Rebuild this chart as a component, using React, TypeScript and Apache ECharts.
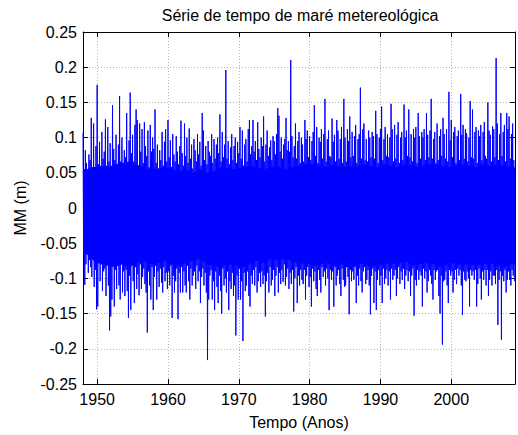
import React, { useEffect, useRef } from "react";
import * as echarts from "echarts";

// Storm-surge (meteorological tide) residual, sampled six times a year.
// For each sample the upper and lower excursion is stored in millimetres.
const startYear = 1948;
const endYear = 2009;
const samplesPerYear = 6;

const highMM: number[] = [
  107, 55, 82, 64, 50, 76,
  68, 128, 58, 120, 52, 88,
  175, 62, 94, 56, 108, 70,
  80, 126, 60, 115, 66, 92,
  58, 146, 84, 68, 104, 62,
  90, 159, 66, 100, 56, 82,
  72, 135, 62, 96, 164, 78,
  104, 66, 118, 140, 125, 60,
  120, 80, 112, 64, 122, 88,
  74, 110, 58, 118, 80, 100,
  84, 140, 64, 90, 56, 82,
  68, 108, 60, 94, 112, 66,
  125, 72, 96, 58, 105, 76,
  66, 102, 80, 62, 88, 124,
  78, 60, 120, 74, 100, 64,
  113, 70, 90, 56, 98, 82,
  66, 105, 76, 94, 60, 135,
  110, 68, 88, 62, 95, 80,
  74, 105, 64, 98, 70, 90,
  100, 78, 133, 66, 108, 72,
  90, 196, 70, 95, 62, 86,
  105, 68, 88, 100, 64, 94,
  78, 115, 70, 110, 60, 90,
  98, 66, 112, 125, 76, 88,
  125, 80, 95, 68, 122, 84,
  72, 100, 88, 130, 66, 90,
  110, 74, 86, 96, 68, 102,
  95, 76, 105, 142, 131, 80,
  100, 70, 90, 98, 128, 82,
  95, 80, 210, 102, 72, 88,
  120, 70, 95, 108, 64, 100,
  90, 66, 125, 98, 110, 72,
  102, 68, 95, 108, 146, 74,
  115, 64, 100, 94, 112, 70,
  105, 155, 66, 98, 110, 74,
  72, 127, 94, 104, 66, 125,
  110, 70, 98, 115, 64, 155,
  100, 66, 112, 95, 130, 72,
  108, 74, 102, 118, 64, 98,
  105, 171, 70, 112, 120, 68,
  98, 66, 110, 100, 72, 108,
  102, 70, 138, 105, 64, 100,
  112, 144, 68, 98, 115, 74,
  105, 72, 100, 148, 112, 66,
  118, 70, 104, 122, 64, 100,
  108, 68, 147, 100, 110, 74,
  140, 72, 105, 66, 112, 100,
  115, 64, 135, 102, 70, 108,
  100, 112, 68, 135, 104, 72,
  110, 155, 70, 98, 108, 64,
  120, 68, 102, 112, 74, 128,
  105, 70, 112, 66, 165, 96,
  125, 72, 108, 115, 64, 102,
  110, 68, 162, 104, 118, 70,
  112, 106, 66, 100, 152, 72,
  140, 70, 108, 115, 64, 110,
  102, 118, 68, 108, 122, 74,
  70, 150, 110, 104, 66, 116,
  112, 72, 213, 120, 68, 105,
  135, 74, 108, 118, 66, 135,
  112, 130, 70, 105, 120, 68,
];

const lowMM: number[] = [
  -58, -109, -80, -66, -92, -74,
  -84, -98, -70, -112, -88, -144,
  -140, -78, -104, -72, -118, -90,
  -86, -125, -76, -110, -174, -154,
  -130, -82, -140, -88, -115, -78,
  -110, -130, -80, -120, -90, -125,
  -88, -118, -156, -96, -145, -82,
  -104, -135, -84, -115, -94, -124,
  -80, -115, -98, -86, -108, -120,
  -177, -90, -110, -130, -84, -145,
  -98, -82, -130, -90, -112, -86,
  -106, -120, -84, -104, -92, -115,
  -90, -110, -82, -156, -96, -120,
  -104, -86, -158, -92, -120, -84,
  -120, -90, -110, -120, -82, -104,
  -130, -86, -110, -96, -90, -115,
  -82, -104, -90, -135, -98, -86,
  -110, -92, -120, -216, -130, -96,
  -88, -130, -104, -145, -90, -112,
  -135, -96, -118, -150, -86, -110,
  -100, -120, -90, -145, -104, -115,
  -92, -125, -110, -181, -96, -130,
  -86, -130, -104, -189, -92, -118,
  -110, -90, -125, -140, -96, -108,
  -88, -110, -84, -120, -104, -92,
  -112, -90, -108, -96, -154, -104,
  -92, -120, -84, -110, -102, -88,
  -125, -96, -84, -120, -92, -108,
  -88, -105, -80, -110, -98, -86,
  -115, -92, -108, -88, -147, -100,
  -84, -135, -96, -110, -88, -102,
  -108, -88, -130, -96, -84, -112,
  -98, -140, -86, -104, -90, -115,
  -125, -88, -102, -120, -84, -98,
  -90, -110, -86, -100, -145, -88,
  -102, -90, -140, -84, -110, -96,
  -88, -108, -125, -86, -102, -112,
  -110, -84, -98, -151, -88, -104,
  -90, -102, -84, -135, -96, -110,
  -86, -104, -120, -90, -84, -108,
  -102, -88, -110, -151, -96, -86,
  -135, -90, -145, -102, -88, -110,
  -96, -135, -86, -108, -100, -88,
  -110, -90, -130, -86, -102, -96,
  -88, -125, -100, -84, -108, -90,
  -102, -86, -115, -96, -88, -104,
  -90, -125, -96, -86, -153, -102,
  -110, -88, -102, -90, -96, -140,
  -86, -100, -90, -120, -104, -88,
  -96, -108, -130, -88, -102, -90,
  -88, -125, -150, -96, -194, -104,
  -102, -90, -110, -135, -88, -96,
  -90, -120, -102, -88, -108, -86,
  -96, -88, -110, -152, -90, -102,
  -104, -90, -100, -140, -88, -96,
  -90, -102, -88, -140, -108, -86,
  -100, -130, -90, -102, -88, -110,
  -88, -125, -102, -90, -110, -96,
  -96, -108, -88, -166, -102, -90,
  -187, -96, -104, -88, -120, -102,
  -90, -102, -110, -88, -96, -104,
];

// Yearly extent of the densely filled part of the record (mm), 1948–2008.
const coreTopMM: number[] = [
  55, 58, 60, 58, 62, 64, 66, 62, 58, 55,
  55, 58, 55, 52, 55, 50, 55, 50, 52, 58,
  56, 55, 58, 60, 58, 55, 58, 60, 55, 58,
  60, 62, 62, 60, 58, 62, 58, 60, 58, 62,
  60, 58, 62, 60, 58, 62, 60, 58, 62, 62,
  60, 58, 60, 62, 60, 58, 62, 60, 62, 60,
  58,
];
const coreBottomMM: number[] = [
  -65, -75, -80, -82, -84, -80, -84, -78, -75, -80,
  -78, -75, -80, -82, -78, -75, -72, -80, -82, -84,
  -80, -82, -84, -80, -75, -78, -72, -75, -72, -75,
  -80, -78, -82, -80, -78, -82, -80, -84, -82, -78,
  -84, -82, -80, -78, -80, -75, -82, -80, -78, -80,
  -84, -80, -78, -82, -80, -82, -80, -78, -82, -84,
  -80,
];

const yTicks = [-0.25, -0.2, -0.15, -0.1, -0.05, 0, 0.05, 0.1, 0.15, 0.2, 0.25];
const xTickYears = [1950, 1960, 1970, 1980, 1990, 2000];

const titleText = "Série de tempo de maré metereológica";
const xName = "Tempo (Anos)";
const yName = "MM (m)";

const FONT = "'Liberation Sans', Arial, Helvetica, sans-serif";
const BLUE = "#0000ff";

// Yearly values placed mid-year, with the first and last held out to the axis ends.
function yearlySeries(values: number[]): [number, number][] {
  const out: [number, number][] = [[startYear, values[0] / 1000]];
  values.forEach((v, i) => out.push([startYear + i + 0.5, v / 1000]));
  out.push([endYear, values[values.length - 1] / 1000]);
  return out;
}

export default function App() {
  const ref = useRef<HTMLDivElement>(null);

  useEffect(() => {
    if (!ref.current) return;
    const chart = echarts.init(ref.current, undefined, { renderer: "svg" });

    // Alternate each sample's upper and lower excursion so the line sweeps the band.
    const points: [number, number][] = [];
    highMM.forEach((h, i) => {
      const t = startYear + i / samplesPerYear;
      points.push([t, h / 1000]);
      points.push([t + 0.5 / samplesPerYear, lowMM[i] / 1000]);
    });

    const gridLine = { show: true, lineStyle: { color: "#b4b4b4", width: 1, type: [1, 2] as number[] } };
    const axisLine = { show: true, onZero: false, lineStyle: { color: "#000", width: 1 } };
    const tick = { show: true, inside: true, length: 5, lineStyle: { color: "#000", width: 1 } };
    const labelStyle = { color: "#000", fontSize: 16, fontFamily: FONT };

    const coreArea = (values: number[]) => ({
      type: "line",
      xAxisIndex: 0,
      yAxisIndex: 0,
      data: yearlySeries(values),
      symbol: "none",
      showSymbol: false,
      lineStyle: { color: BLUE, width: 0 },
      areaStyle: { color: BLUE, opacity: 1, origin: 0 },
      emphasis: { disabled: true },
      silent: true,
      z: 1,
    });

    chart.setOption({
      animation: false,
      backgroundColor: "#fff",
      textStyle: { fontFamily: FONT },
      graphic: [
        {
          type: "text",
          x: 300,
          y: 15,
          style: {
            text: titleText,
            fill: "#000",
            font: `16px ${FONT}`,
            textAlign: "center",
            textVerticalAlign: "middle",
          },
        },
      ],
      grid: { left: 83, right: 1, top: 32, bottom: 50, show: false },
      xAxis: [
        {
          type: "value",
          min: startYear,
          max: endYear,
          splitNumber: 6,
          axisLine,
          axisTick: tick,
          splitLine: gridLine,
          axisLabel: {
            ...labelStyle,
            margin: 7,
            formatter: (v: number) => (xTickYears.includes(v) ? String(v) : ""),
          },
          name: xName,
          nameLocation: "middle",
          nameGap: 30,
          nameTextStyle: { ...labelStyle },
        },
        {
          type: "value",
          position: "top",
          min: startYear,
          max: endYear,
          splitNumber: 6,
          axisLine,
          axisTick: tick,
          splitLine: { show: false },
          axisLabel: { show: false },
        },
      ],
      yAxis: [
        {
          type: "value",
          min: yTicks[0],
          max: yTicks[yTicks.length - 1],
          interval: 0.05,
          axisLine,
          axisTick: tick,
          splitLine: gridLine,
          axisLabel: {
            ...labelStyle,
            margin: 6,
            formatter: (v: number) => String(parseFloat(v.toFixed(2))),
          },
          name: yName,
          nameLocation: "middle",
          nameGap: 55,
          nameTextStyle: { ...labelStyle },
        },
        {
          type: "value",
          position: "right",
          min: yTicks[0],
          max: yTicks[yTicks.length - 1],
          interval: 0.05,
          axisLine,
          axisTick: tick,
          splitLine: { show: false },
          axisLabel: { show: false },
        },
      ],
      series: [
        coreArea(coreTopMM),
        coreArea(coreBottomMM),
        {
          type: "line",
          xAxisIndex: 0,
          yAxisIndex: 0,
          data: points,
          symbol: "none",
          showSymbol: false,
          lineStyle: { color: BLUE, width: 1 },
          emphasis: { disabled: true },
          silent: true,
          z: 2,
        },
      ],
    });

    return () => chart.dispose();
  }, []);

  return (
    <div
      ref={ref}
      style={{ position: "fixed", left: 0, top: 0, width: 518, height: 435, background: "#fff" }}
    />
  );
}
